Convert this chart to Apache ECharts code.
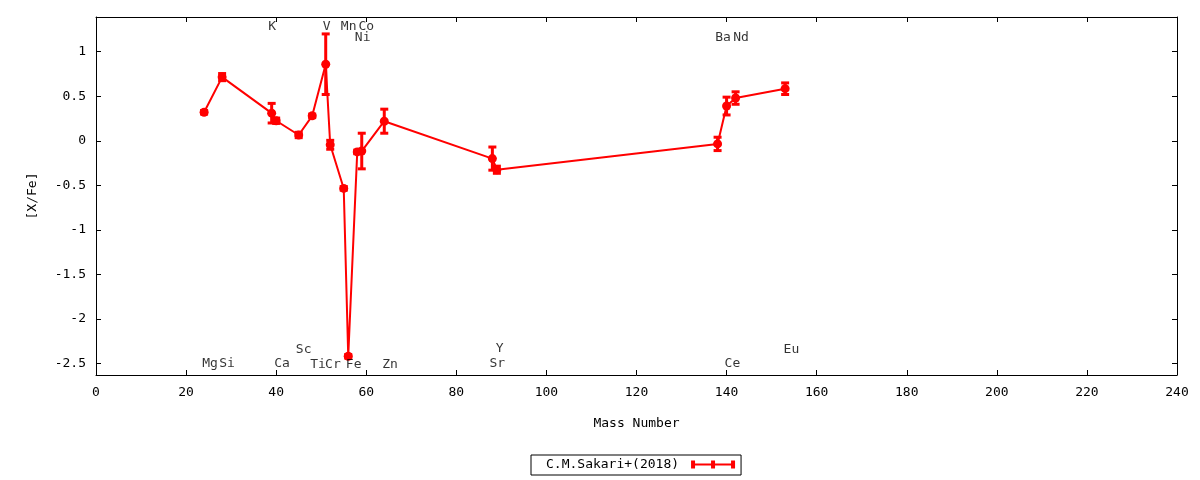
<!DOCTYPE html>
<html>
<head>
<meta charset="utf-8">
<title>[X/Fe] vs Mass Number</title>
<script src="https://cdn.jsdelivr.net/npm/echarts@6/dist/echarts.min.js"></script>
<style>
  html, body { margin: 0; padding: 0; background: #fff; }
  #chart { width: 1200px; height: 480px; }
</style>
</head>
<body>
<div id="chart"></div>
<script>
// abundance pattern, C.M.Sakari+(2018)
const elements = ['Mg', 'Si', 'K', 'Ca', 'Sc', 'Ti', 'V', 'Cr', 'Mn', 'Fe', 'Ni', 'Co', 'Zn', 'Sr', 'Y', 'Ba', 'Ce', 'Nd', 'Eu'];
const massNumber = [24, 28, 39, 40, 45, 48, 51, 52, 55, 56, 58, 59, 64, 88, 89, 138, 140, 142, 153];
const xFe = [0.32, 0.715, 0.31, 0.225, 0.065, 0.28, 0.86, -0.045, -0.535, -2.42, -0.125, -0.115, 0.22, -0.2, -0.325, -0.035, 0.39, 0.48, 0.585];
const xFeErr = [0.02, 0.04, 0.11, 0.03, 0.03, 0.02, 0.34, 0.05, 0.02, 0.02, 0.02, 0.2, 0.135, 0.13, 0.04, 0.075, 0.1, 0.07, 0.065];

// element name labels drawn inside the plot
const labelText = ['K', 'V', 'Mn', 'Co', 'Ni', 'Ba', 'Nd', 'Mg', 'Si', 'Ca', 'Sc', 'Ti', 'Cr', 'Fe', 'Zn', 'Sr', 'Y', 'Ce', 'Eu'];
const labelX = [39.1, 51.2, 56.1, 60.0, 59.2, 139.2, 143.2, 25.3, 29.1, 41.3, 46.1, 49.3, 52.6, 57.2, 65.3, 89.1, 89.6, 141.3, 154.4];
const labelY = [1.28, 1.28, 1.28, 1.28, 1.16, 1.16, 1.16, -2.5, -2.5, -2.5, -2.35, -2.51, -2.51, -2.51, -2.51, -2.5, -2.33, -2.5, -2.34];

const yTicks = [-2.5, -2, -1.5, -1, -0.5, 0, 0.5, 1];

const seriesName = 'C.M.Sakari+(2018)';
const font = 'DejaVu Sans Mono';

const chart = echarts.init(document.getElementById('chart'));

const lineData = massNumber.map((m, i) => [m, xFe[i]]);
const errData = massNumber.map((m, i) => [m, xFe[i] - xFeErr[i], xFe[i] + xFeErr[i]]);
const labelData = labelText.map((t, i) => ({ name: t, value: [labelX[i], labelY[i]] }));

const tickStyle = { inside: true, length: 5, lineStyle: { color: '#000', width: 1 } };
const lineStyle = { show: true, onZero: false, lineStyle: { color: '#000', width: 1 } };

const options = {
  backgroundColor: '#fff',
  animation: false,
  grid: { left: 96, right: 23, top: 17, bottom: 105 },
  legend: {
    left: 531,
    top: 455,
    align: 'right',
    orient: 'horizontal',
    itemWidth: 44,
    itemHeight: 8,
    padding: [3, 6, 4, 15],
    borderColor: '#000',
    borderWidth: 1,
    borderRadius: 0,
    textStyle: { fontFamily: font, fontSize: 13, color: '#000', padding: [0, 7, 0, 0] },
    data: [{
      name: seriesName,
      icon: 'path://M0,0H4V8H0Z M20,0H24V8H20Z M40,0H44V8H40Z M0,3H44V5H0Z',
      itemStyle: { color: '#ff0000' }
    }]
  },
  xAxis: [
    {
      type: 'value', min: 0, max: 240, interval: 20,
      name: 'Mass Number', nameLocation: 'middle', nameGap: 42,
      nameTextStyle: { fontFamily: font, fontSize: 13, color: '#000' },
      axisLine: lineStyle, axisTick: tickStyle,
      axisLabel: { fontFamily: font, fontSize: 13, color: '#000', margin: 11 },
      splitLine: { show: false }
    },
    {
      type: 'value', position: 'top', min: 0, max: 240, interval: 20,
      axisLine: lineStyle, axisTick: tickStyle,
      axisLabel: { show: false }, splitLine: { show: false }
    }
  ],
  yAxis: [
    {
      type: 'value', min: -2.63, max: 1.39,
      name: '[X/Fe]', nameLocation: 'middle', nameGap: 57,
      nameTextStyle: { fontFamily: font, fontSize: 13, color: '#000' },
      axisLine: lineStyle,
      axisTick: Object.assign({ customValues: yTicks }, tickStyle),
      axisLabel: { customValues: yTicks, fontFamily: font, fontSize: 13, color: '#000', margin: 10 },
      splitLine: { show: false }
    },
    {
      type: 'value', position: 'right', min: -2.63, max: 1.39,
      axisLine: lineStyle,
      axisTick: Object.assign({ customValues: yTicks }, tickStyle),
      axisLabel: { show: false, customValues: yTicks }, splitLine: { show: false }
    }
  ],
  series: [
    {
      name: seriesName,
      type: 'line',
      data: lineData,
      color: '#ff0000',
      lineStyle: { color: '#ff0000', width: 2 },
      symbol: 'circle',
      symbolSize: 9,
      itemStyle: { color: '#ff0000' },
      z: 3
    },
    {
      name: 'errors',
      type: 'custom',
      data: errData,
      z: 4,
      renderItem: function (params, api) {
        const x = api.value(0);
        const lo = api.coord([x, api.value(1)]);
        const hi = api.coord([x, api.value(2)]);
        const w = 4;
        const st = { stroke: '#ff0000', lineWidth: 3 };
        return {
          type: 'group',
          children: [
            { type: 'line', shape: { x1: hi[0], y1: hi[1], x2: lo[0], y2: lo[1] }, style: st },
            { type: 'line', shape: { x1: hi[0] - w, y1: hi[1], x2: hi[0] + w, y2: hi[1] }, style: st },
            { type: 'line', shape: { x1: lo[0] - w, y1: lo[1], x2: lo[0] + w, y2: lo[1] }, style: st }
          ]
        };
      }
    },
    {
      name: 'labels',
      type: 'scatter',
      data: labelData,
      symbolSize: 0,
      silent: true,
      label: {
        show: true,
        position: 'inside',
        formatter: '{b}',
        fontFamily: font,
        fontSize: 13,
        color: '#000'
      },
      z: 5
    }
  ]
};

chart.setOption(options);
</script>
</body>
</html>
